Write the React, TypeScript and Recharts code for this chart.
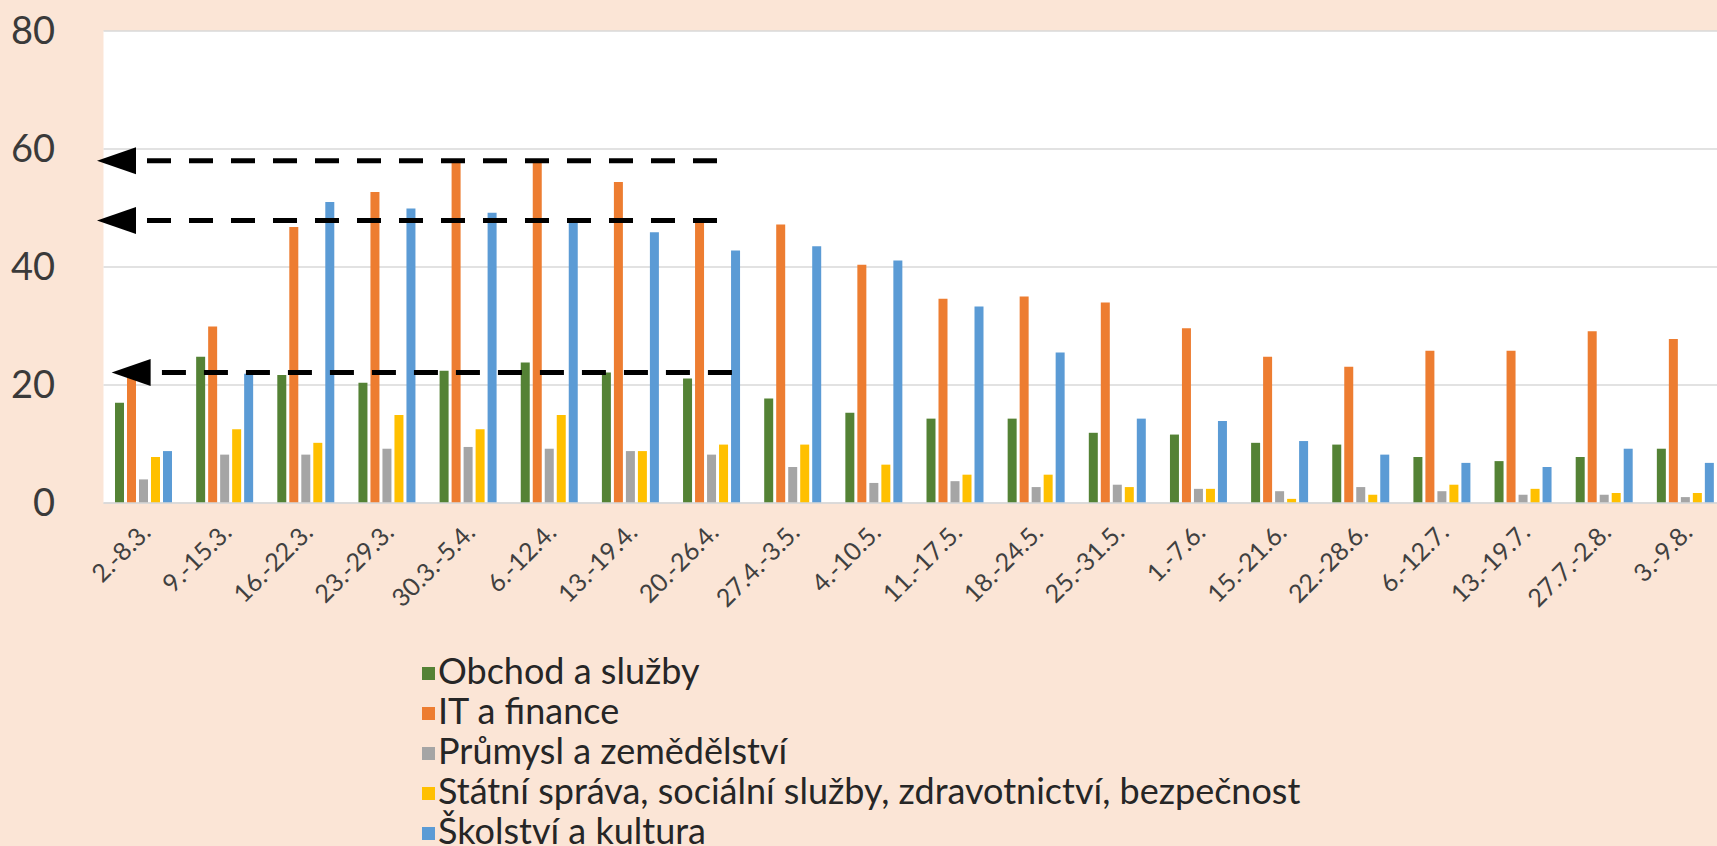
import React from 'react';
import {
  BarChart,
  Bar,
  XAxis,
  YAxis,
  CartesianGrid,
  Legend,
  ReferenceLine,
  ReferenceDot,
} from 'recharts';

const weeks = [
  '2.-8.3.', '9.-15.3.', '16.-22.3.', '23.-29.3.', '30.3.-5.4.', '6.-12.4.', '13.-19.4.',
  '20.-26.4.', '27.4.-3.5.', '4.-10.5.', '11.-17.5.', '18.-24.5.', '25.-31.5.', '1.-7.6.',
  '15.-21.6.', '22.-28.6.', '6.-12.7.', '13.-19.7.', '27.7.-2.8.', '3.-9.8.',
];

const obchod = [17.0, 24.8, 21.7, 20.4, 22.4, 23.8, 22.1, 21.1, 17.7, 15.3, 14.3, 14.3, 11.9, 11.6, 10.2, 9.9, 7.8, 7.1, 7.8, 9.2];
const itFinance = [21.5, 29.9, 46.8, 52.7, 58.3, 58.0, 54.4, 47.6, 47.2, 40.4, 34.6, 35.0, 34.0, 29.6, 24.8, 23.1, 25.8, 25.8, 29.1, 27.8];
const prumysl = [4.0, 8.2, 8.2, 9.2, 9.5, 9.2, 8.8, 8.2, 6.1, 3.4, 3.7, 2.7, 3.1, 2.4, 2.0, 2.7, 2.0, 1.4, 1.4, 1.0];
const statni = [7.8, 12.5, 10.2, 14.9, 12.5, 14.9, 8.8, 9.9, 9.9, 6.5, 4.8, 4.8, 2.7, 2.4, 0.7, 1.4, 3.1, 2.4, 1.7, 1.7];
const skolstvi = [8.8, 21.9, 51.0, 49.9, 49.2, 48.2, 45.9, 42.8, 43.5, 41.1, 33.3, 25.5, 14.3, 13.9, 10.5, 8.2, 6.8, 6.1, 9.2, 6.8];

const yTicks = [0, 20, 40, 60, 80];

// dashed arrows drawn over the chart, x in "category units" (0..20), y in values
const arrows = [
  { y: 58, tip: -0.08, from: 0.536, to: 7.56 },
  { y: 47.9, tip: -0.08, from: 0.536, to: 7.56 },
  { y: 22.1, tip: 0.1, from: 0.72, to: 7.745 },
];

const series = [
  { key: 'obchod', name: 'Obchod a služby', color: '#548235' },
  { key: 'it', name: 'IT a finance', color: '#ED7D31' },
  { key: 'prumysl', name: 'Průmysl a zemědělství', color: '#A5A5A5' },
  { key: 'statni', name: 'Státní správa, sociální služby, zdravotnictví, bezpečnost', color: '#FFC000' },
  { key: 'skolstvi', name: 'Školství a kultura', color: '#5B9BD5' },
];

const data = weeks.map((w, i) => ({
  week: w,
  pos: i + 0.5,
  obchod: obchod[i],
  it: itFinance[i],
  prumysl: prumysl[i],
  statni: statni[i],
  skolstvi: skolstvi[i],
}));

const FONT = 'Lato, "Open Sans", sans-serif';

function WeekTick(props: any) {
  const { x, y, payload } = props;
  const tx = x + 8;
  const ty = y + 31;
  return (
    <text
      x={tx}
      y={ty}
      transform={`rotate(-45 ${tx} ${ty})`}
      textAnchor="end"
      fill="#404040"
      fontSize={25}
      fontFamily={FONT}
    >
      {payload.value}
    </text>
  );
}

function ArrowHead(props: any) {
  const { cx, cy } = props;
  return (
    <polygon
      points={`${cx},${cy} ${cx + 39},${cy - 13.5} ${cx + 39},${cy + 13.5}`}
      fill="#000"
    />
  );
}

function LegendList() {
  return (
    <div style={{ fontFamily: FONT, fontSize: 36, color: '#262626' }}>
      {series.map((s) => (
        <div key={s.key} style={{ display: 'flex', alignItems: 'center', height: 40, whiteSpace: 'nowrap' }}>
          <span
            style={{
              display: 'inline-block',
              width: 13,
              height: 13,
              background: s.color,
              marginRight: 3,
              marginTop: 6,
            }}
          />
          <span style={{ lineHeight: '40px' }}>{s.name}</span>
        </div>
      ))}
    </div>
  );
}

export default function App() {
  return (
    <div
      style={{
        position: 'fixed',
        left: 0,
        top: 0,
        width: 1717,
        height: 846,
        overflow: 'hidden',
        background: '#FBE5D6',
      }}
    >
      <BarChart
        width={1740}
        height={846}
        data={data}
        margin={{ top: 31, right: 13.5, bottom: 283, left: 0 }}
        barCategoryGap={11.5}
        barGap={3}
      >
        <CartesianGrid vertical={false} stroke="#D9D9D9" strokeWidth={1.5} fill="#ffffff" />
        <XAxis
          dataKey="week"
          interval={0}
          height={60}
          tickSize={0}
          tickMargin={0}
          tickLine={false}
          axisLine={{ stroke: '#D9D9D9', strokeWidth: 1.5 }}
          tick={<WeekTick />}
        />
        <XAxis xAxisId="pos" dataKey="pos" type="number" domain={[0, 20]} allowDataOverflow hide />
        <YAxis
          width={103.5}
          domain={[0, 80]}
          ticks={yTicks}
          tickSize={0}
          tickMargin={48.5}
          axisLine={false}
          tickLine={false}
          tick={{ fill: '#3a3a3a', fontSize: 38, fontFamily: FONT }}
        />
        {series.map((s) => (
          <Bar key={s.key} dataKey={s.key} name={s.name} fill={s.color} isAnimationActive={false} />
        ))}
        {arrows.map((a, i) => (
          <ReferenceLine
            key={`line-${i}`}
            xAxisId="pos"
            segment={[
              { x: a.from, y: a.y },
              { x: a.to, y: a.y },
            ]}
            stroke="#000"
            strokeWidth={5}
            strokeDasharray="24 18"
            ifOverflow="visible"
          />
        ))}
        {arrows.map((a, i) => (
          <ReferenceDot
            key={`head-${i}`}
            xAxisId="pos"
            x={a.tip}
            y={a.y}
            r={1}
            shape={<ArrowHead />}
            ifOverflow="visible"
          />
        ))}
        <Legend
          layout="vertical"
          align="center"
          verticalAlign="middle"
          wrapperStyle={{ left: 422, top: 650, width: 1200 }}
          content={() => <LegendList />}
        />
      </BarChart>
    </div>
  );
}
